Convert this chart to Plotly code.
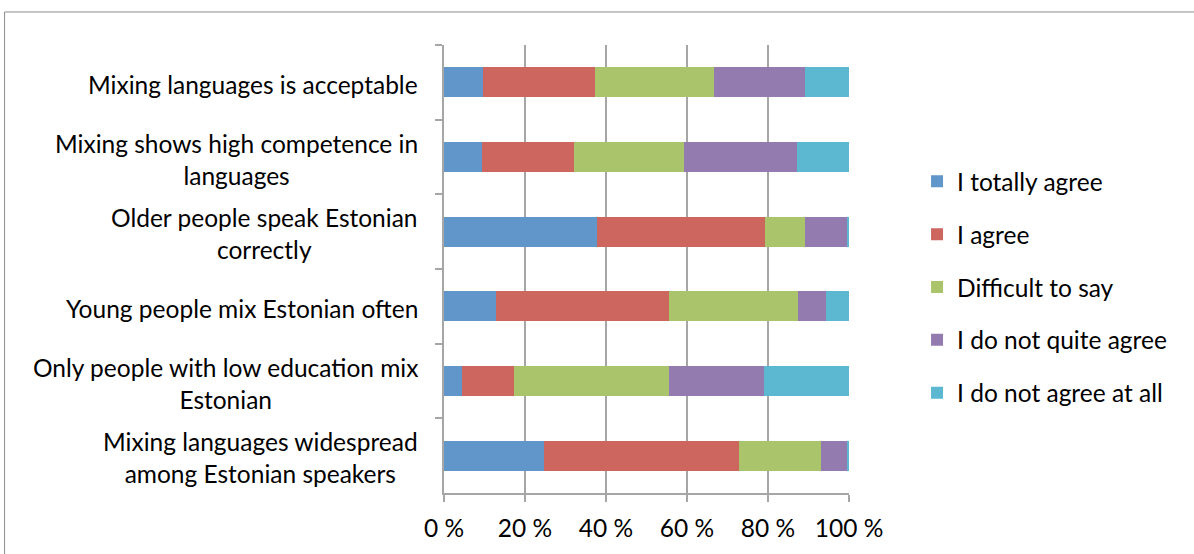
import plotly.graph_objects as go

categories = [
    "Mixing languages is acceptable",
    "Mixing shows high competence in<br>languages",
    "Older people speak Estonian<br>correctly",
    "Young people mix Estonian often",
    "Only people with low education mix<br>Estonian",
    "Mixing languages widespread<br>among Estonian speakers",
]
series_names = ["I totally agree", "I agree", "Difficult to say",
                "I do not quite agree", "I do not agree at all"]
totally_agree = [9.7, 9.3, 37.8, 12.8, 4.4, 24.8]
agree = [27.7, 22.8, 41.5, 42.7, 12.8, 48.1]
difficult = [29.2, 27.1, 9.9, 31.8, 38.4, 20.1]
not_quite = [22.6, 27.9, 10.3, 7.0, 23.5, 6.5]
not_at_all = [10.8, 12.9, 0.5, 5.7, 20.9, 0.5]
colors = ["#6096C9", "#CD665F", "#AAC46C", "#937BB0", "#5BB8D0"]
x_ticks = [0, 20, 40, 60, 80, 100]
x_tick_text = ["0 %", "20 %", "40 %", "60 %", "80 %", "100 %"]

FONT = "Lato"
FS = 24.5
series_values = [totally_agree, agree, difficult, not_quite, not_at_all]

fig = go.Figure()
for i, (name, vals) in enumerate(zip(series_names, series_values)):
    fig.add_trace(go.Bar(
        y=categories, x=vals, name=name, orientation="h",
        marker=dict(color=colors[i], line=dict(width=0)),
        legendgroup=f"g{i}",
    ))

annotations = []
for cat in categories:
    annotations.append(dict(
        x=0, y=cat, xref="paper", yref="y", text=cat, showarrow=False,
        xanchor="right", yanchor="middle", align="center",
        xshift=-24, yshift=-2,
        font=dict(family=FONT, size=FS, color="#000000"),
    ))

fig.update_layout(
    barmode="stack",
    bargap=0.6,
    width=1194, height=554,
    margin=dict(l=444, r=345, t=45, b=61),
    paper_bgcolor="white", plot_bgcolor="white",
    font=dict(family=FONT, size=FS, color="#000000"),
    showlegend=True,
    legend=dict(
        x=1.168, y=0.459, xanchor="left", yanchor="middle",
        traceorder="grouped", tracegroupgap=18,
        font=dict(family=FONT, size=FS, color="#000000"),
        bgcolor="rgba(0,0,0,0)",
    ),
    xaxis=dict(
        range=[0, 100], tickvals=x_ticks, ticktext=x_tick_text,
        showgrid=True, gridcolor="#A6A6A6", gridwidth=2,
        showline=True, linecolor="#A6A6A6", linewidth=2,
        ticks="outside", ticklen=7, tickcolor="#A6A6A6", tickwidth=2,
        ticklabelstandoff=6,
        zeroline=False, fixedrange=True,
        tickfont=dict(family=FONT, size=FS, color="#000000"),
    ),
    yaxis=dict(
        autorange="reversed", showticklabels=False,
        tickson="boundaries", ticks="outside", ticklen=7,
        tickcolor="#A6A6A6", tickwidth=2,
        showline=True, linecolor="#A6A6A6", linewidth=2,
        showgrid=False, zeroline=False, fixedrange=True,
    ),
    annotations=annotations,
    shapes=[dict(type="rect", xref="paper", yref="paper",
                 x0=-1.085, x1=2.0, y0=-0.5, y1=1.0737,
                 line=dict(color="#8C8C8C", width=1), fillcolor="rgba(0,0,0,0)",
                 layer="below")],
)

fig.write_html("out.html")
